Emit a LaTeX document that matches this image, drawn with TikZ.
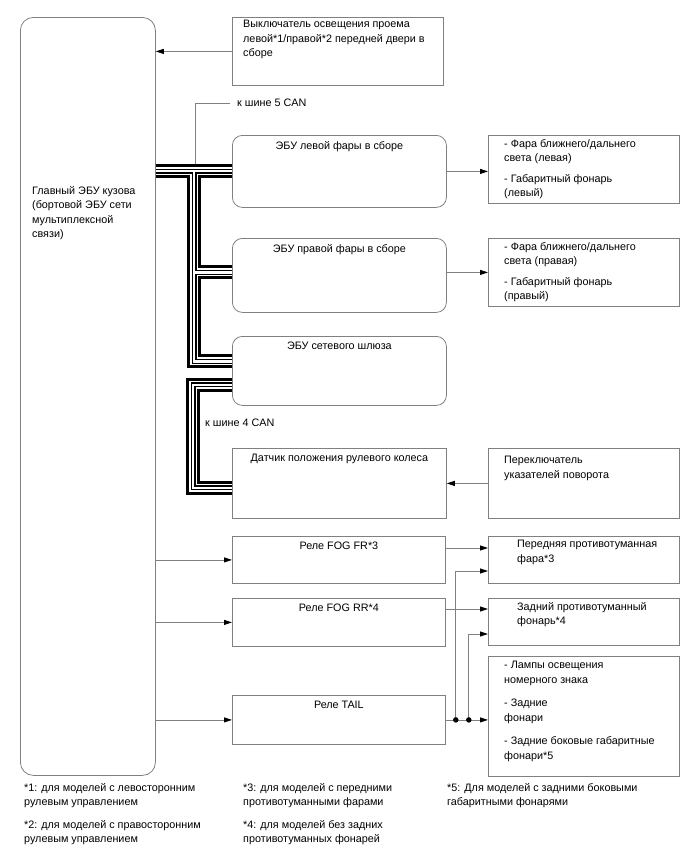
\documentclass[tikz,border=0pt]{standalone}
\usepackage{fontspec}
\setmainfont{Liberation Sans}
\usetikzlibrary{positioning, arrows.meta, backgrounds}
\definecolor{framegray}{gray}{0.5}

\begin{document}
\begin{tikzpicture}[x=1pt, y=-1pt,
            font=\fontsize{10.8}{14.5}\selectfont,
            blk/.style={draw=framegray, line width=0.8pt, anchor=north west, inner sep=0pt},
            ecu/.style={blk, rounded corners=10pt},
            txt/.style={anchor=north west, inner sep=0pt, align=left},
            ttl/.style={anchor=north, inner sep=0pt},
            sig/.style={draw=framegray, line width=0.8pt,
                        -{Triangle[length=8pt, width=5pt, color=black]}},
            dot/.style={circle, fill=black, inner sep=0pt, minimum size=5.5pt},
      ]
      \useasboundingbox (0,0) rectangle (688,852);

      % Main body ECU
      \node[ecu, rounded corners=13pt, minimum width=135pt, minimum height=758pt] (main) at (20,17) {};
      \node[txt, below right=169pt and 12pt of main.north west] (main-t)
      {Главный ЭБУ кузова\\(бортовой ЭБУ сети\\мультиплексной\\связи)};

      % Boxes: name/x/y/width/height/style
      \foreach \nm/\px/\py/\w/\h/\st in {
                  door/232/17/211/68/blk,
                  lh/232/135/214/72/ecu,
                  rh/232/238/214/74/ecu,
                  gw/232/336/214/69/ecu,
                  sas/232/448/214/70/blk,
                  fogfr/232/536/213/47/blk,
                  fogrr/232/598/213/48/blk,
                  tail/232/695/213/49/blk,
                  lampl/488/135/191/68/blk,
                  lampr/488/238/191/68/blk,
                  tss/488/448/191/70/blk,
                  ffog/488/536/191/47/blk,
                  rfog/488/598/191/47/blk,
                  tlamp/488/656/191/120/blk}{
            \node[\st, minimum width=\w pt, minimum height=\h pt] (\nm) at (\px,\py) {};
      }

      % Titles in the upper part of a box
      \foreach \nm/\lab in {lh/ЭБУ левой фары в сборе, rh/ЭБУ правой фары в сборе,
                  gw/ЭБУ сетевого шлюза, sas/Датчик положения рулевого колеса,
                  fogfr/Реле FOG FR*3, fogrr/Реле FOG RR*4, tail/Реле TAIL}{
            \node[ttl, below=6pt of \nm.north] (\nm-t) {\lab};
      }

      \node[txt, below right=3pt and 11pt of door.north west] (door-t)
      {Выключатель освещения проема\\левой*1/правой*2 передней двери в\\сборе};
      \node[txt, below right=4pt and 16pt of lampl.north west] (lampl-t)
      {- Фара ближнего/дальнего\\света (левая)\\[6pt]- Габаритный фонарь\\(левый)};
      \node[txt, below right=4pt and 16pt of lampr.north west] (lampr-t)
      {- Фара ближнего/дальнего\\света (правая)\\[6pt]- Габаритный фонарь\\(правый)};
      \node[txt, below right=8pt and 16pt of tss.north west] (tss-t)
      {Переключатель\\указателей поворота};
      \node[txt, below right=4pt and 29pt of ffog.north west] (ffog-t)
      {Передняя противотуманная\\фара*3};
      \node[txt, below right=4pt and 29pt of rfog.north west] (rfog-t)
      {Задний противотуманный\\фонарь*4};
      \node[txt, below right=5pt and 16pt of tlamp.north west] (tlamp-t)
      {- Лампы освещения\\номерного знака\\[9pt]- Задние\\фонари\\[9pt]- Задние боковые габаритные\\фонари*5};

      % CAN lines, drawn as four stacked strokes
      \coordinate (j5) at (194,171);
      \begin{scope}[on background layer, line join=miter]
            \foreach \lw/\cl in {14pt/black, 8pt/white, 5pt/black, 2.4pt/white}{
                  \draw[line width=\lw, \cl] (main.east |- j5) -- (lh.west |- j5);
                  \draw[line width=\lw, \cl] (j5) |- ([yshift=9.5pt]gw.west);
                  \draw[line width=\lw, \cl] (j5 |- lampr.west) -- (rh.west |- lampr.west);
                  \draw[line width=\lw, \cl] ([yshift=-14pt]gw.west)
                  -| ([xshift=-39pt, yshift=-4.5pt]sas.west) -- ([yshift=-4.5pt]sas.west);
            }
      \end{scope}

      \node[anchor=west, inner sep=0pt, inner xsep=7pt] (can5) at (230,103) {к шине 5 CAN};
      \draw[framegray, line width=0.8pt] ([xshift=1pt, yshift=7pt]j5) |- (can5.west);
      \node[anchor=west, inner sep=0pt] (can4) at (205,423) {к шине 4 CAN};

      % Signal lines
      \draw[sig] (door.west) -- (door.west -| main.east);
      \draw[sig] (lh.east) -- (lh.east -| lampl.west);
      \draw[sig] (lampr.west -| rh.east) -- (lampr.west);
      \draw[sig] (tss.west) -- (tss.west -| sas.east);
      \foreach \nm in {fogfr, fogrr, tail}
            \draw[sig] (main.east |- \nm.west) -- (\nm.west);
      \draw[sig] ([yshift=-12pt]fogfr.north east) -- ([yshift=-12pt]ffog.north west);
      \draw[sig] ([yshift=-11pt]fogrr.north east) -- ([yshift=-11pt]rfog.north west);

      \coordinate (j1) at ([xshift=10pt]tail.east);
      \coordinate (j2) at ([xshift=23pt]tail.east);
      \draw[sig] (tail.east) -- (tail.east -| tlamp.west);
      \draw[sig] (j1) |- ([yshift=-35pt]ffog.north west);
      \draw[sig] (j2) |- ([yshift=-36pt]rfog.north west);
      \foreach \j in {j1, j2}
            \node[dot] (\j-d) at (\j) {};

      % Footnotes
      \foreach \nm/\px/\py/\lab in {
                  fn1/24/783/{*1: для моделей с левосторонним\\рулевым управлением},
                  fn2/24/820/{*2: для моделей с правосторонним\\рулевым управлением},
                  fn3/243/783/{*3: для моделей с передними\\противотуманными фарами},
                  fn4/243/820/{*4: для моделей без задних\\противотуманных фонарей},
                  fn5/447/783/{*5: Для моделей с задними боковыми\\габаритными фонарями}}{
            \node[txt] (\nm) at (\px,\py) {\lab};
      }
\end{tikzpicture}
\end{document}
